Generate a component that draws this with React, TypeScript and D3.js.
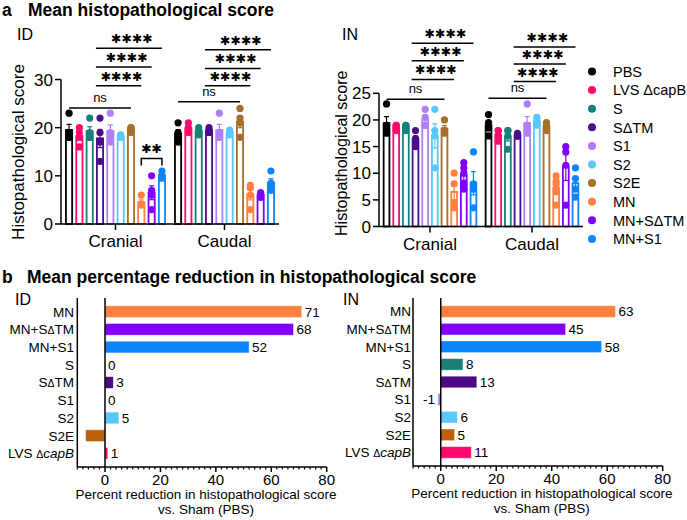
import * as d3 from "d3";

const FONT = "'Liberation Sans', Arial, sans-serif";

const groups = ["PBS", "LVS ΔcapB", "S", "SΔTM", "S1", "S2", "S2E", "MN", "MN+SΔTM", "MN+S1"];
const colors = ["#000000", "#ff0a6c", "#17807a", "#4a0c8c", "#b07ff5", "#5ac8fa", "#a66f2b", "#ff8040", "#8000ff", "#0a84ff"];
const regions = ["Cranial", "Caudal"];

// individual scores per group (ID route)
const idCranial = [
  [23, 19, 18, 18], [20, 19, 18, 16], [22, 19, 18, 18], [22, 19, 17, 13], [23, 19, 18, 17],
  [18.5, 18, 18, 18], [20, 20, 19.5, 19], [6, 4, 4, 4], [10, 7, 6, 3], [11, 10, 10, 9.5],
];
const idCaudal = [
  [21, 19, 18, 17], [21, 20, 19.5, 19], [20, 19.5, 19, 18.5], [20, 19.5, 19, 19], [23, 19, 18, 18],
  [19.5, 19, 19, 18.5], [24, 22, 21, 18], [8, 7.5, 6, 3], [6.5, 6, 6, 5.5], [11, 8.5, 7.5, 7],
];
// IN route
const inCranial = [
  [23, 19, 18, 17.5], [19, 19, 18.5, 18], [19, 19, 18.5, 18], [18, 16.5, 16, 15], [22, 20.5, 19, 19],
  [22, 18, 17, 11], [20, 18, 18, 17.5], [10, 8, 4.5, 3.5], [12, 11, 10, 8, 7], [14, 8, 7, 3.5],
];
const inCaudal = [
  [21, 19.5, 18.5, 17], [18, 18, 17, 16], [18, 18, 17, 14.5], [17.5, 17, 17, 17], [23, 19, 18, 17.5],
  [20.5, 20, 19.5, 19], [19.5, 19, 18.5, 18], [9.5, 8.5, 8, 6.5, 4], [15, 14, 11.5, 4], [11, 9, 7, 5.5],
];

// significance brackets: region, from/to bar index, level (score units), label
const idBrackets = [
  { region: 0, from: 0, to: 6, level: 24.1, text: "ns" },
  { region: 0, from: 2.6, to: 7, level: 28.7, text: "****" },
  { region: 0, from: 2.6, to: 8, level: 32.6, text: "****" },
  { region: 0, from: 2.6, to: 9, level: 36.5, text: "****" },
  { region: 1, from: 0, to: 6, level: 25.4, text: "ns" },
  { region: 1, from: 2.6, to: 7, level: 28.7, text: "****" },
  { region: 1, from: 2.6, to: 8, level: 32.3, text: "****" },
  { region: 1, from: 2.6, to: 9, level: 36.2, text: "****" },
];
const idPairBrackets = [{ region: 0, from: 7, to: 9, level: 13.6, text: "**" }];
const inBrackets = [
  { region: 0, from: 0, to: 6, level: 23.9, text: "ns" },
  { region: 0, from: 2.6, to: 7, level: 27.6, text: "****" },
  { region: 0, from: 2.6, to: 8, level: 31.1, text: "****" },
  { region: 0, from: 2.6, to: 9, level: 34.4, text: "****" },
  { region: 1, from: 0, to: 6, level: 24.05, text: "ns" },
  { region: 1, from: 2.6, to: 7, level: 27.2, text: "****" },
  { region: 1, from: 2.6, to: 8, level: 30.5, text: "****" },
  { region: 1, from: 2.6, to: 9, level: 33.7, text: "****" },
];

// panel b
const reductionCats = ["MN", "MN+SΔTM", "MN+S1", "S", "SΔTM", "S1", "S2", "S2E", "LVS ΔcapB"];
const reductionColors = ["#ff7f3f", "#7f00ff", "#0a84ff", "#1a7f78", "#4b0a84", "#a77bf0", "#5ac8fa", "#c0600c", "#ff0a6c"];
const idReduction = [71, 68, 52, 0, 3, 0, 5, -7, 1];
const idReductionLabels = ["71", "68", "52", "0", "3", "0", "5", "", "1"];
const inReduction = [63, 45, 58, 8, 13, -1, 6, 5, 11];
const inReductionLabels = ["63", "45", "58", "8", "13", "-1", "6", "5", "11"];
const reductionTicks = [0, 20, 40, 60, 80];

function Name({ name, deltaSize, italic }: { name: string; deltaSize?: number; italic?: boolean }) {
  const parts = name.split("Δ");
  if (parts.length === 1) return <>{name}</>;
  return (
    <>
      <tspan>{parts[0]}</tspan>
      <tspan fontSize={deltaSize}>Δ</tspan>
      <tspan fontStyle={italic && parts[1] === "capB" ? "italic" : undefined}>{parts[1]}</tspan>
    </>
  );
}

function stats(v: number[]) {
  const m = d3.mean(v) as number;
  const sd = d3.deviation(v) as number;
  return { m, sem: sd / Math.sqrt(v.length) };
}

function BarPanel(props: any) {
  const { x0, x1, yZero, yTop, yMax, ticks, data, brackets, pairs, tag, tagX, titleX, fs, tickFs } = props;
  const y = d3.scaleLinear().domain([0, yMax]).range([yZero, yTop]);
  const xr = d3.scaleBand().domain(regions).range([x0, x1]);
  const xb = d3.scaleBand().domain(groups).range([0, xr.bandwidth()]).paddingInner(0.4).paddingOuter(0.48);
  const bw = xb.bandwidth();
  const cx = (r: number, i: number) => {
    const k = Math.floor(i);
    const base = (xr(regions[r]) as number) + (xb(groups[k]) as number) + bw / 2;
    return base + (i - k) * xb.step();
  };
  return (
    <g fontFamily={FONT}>
      <text x={tagX} y={40} fontSize={16}>{tag}</text>
      <text transform={`translate(${titleX},${(yZero + 70) / 2 + 5}) rotate(-90)`} textAnchor="middle" fontSize={fs}>
        Histopathological score
      </text>
      {/* y axis */}
      <line x1={x0} x2={x0} y1={y(yMax)} y2={yZero} stroke="#000" strokeWidth={1.5} />
      {ticks.map((t: number) => (
        <g key={t}>
          <line x1={x0 - 6} x2={x0} y1={y(t)} y2={y(t)} stroke="#000" strokeWidth={1.5} />
          <text x={x0 - 8} y={y(t)} dy="0.36em" textAnchor="end" fontSize={tickFs}>{t}</text>
        </g>
      ))}
      {/* bars */}
      {data.map((reg: number[][], r: number) =>
        reg.map((pts: number[], i: number) => {
          const { m, sem } = stats(pts);
          const c = cx(r, i);
          return (
            <g key={`${r}-${i}`} stroke={colors[i]}>
              <rect x={c - bw / 2} y={y(m)} width={bw} height={yZero - y(m)} fill="#fff" strokeWidth={1.8} />
              <line x1={c} x2={c} y1={y(m - sem)} y2={y(m + sem)} strokeWidth={1.2} />
              <line x1={c - 2.5} x2={c + 2.5} y1={y(m + sem)} y2={y(m + sem)} strokeWidth={1.2} />
              <line x1={c - 2.5} x2={c + 2.5} y1={y(m - sem)} y2={y(m - sem)} strokeWidth={1.2} />
              <line x1={c - bw / 2} x2={c + bw / 2} y1={y(m)} y2={y(m)} strokeWidth={1.8} />
              {pts.map((p, j) => (
                <circle key={j} cx={c} cy={y(p)} r={3.6} fill={colors[i]} stroke="none" />
              ))}
            </g>
          );
        })
      )}
      {/* x axis */}
      <line x1={x0} x2={x1} y1={yZero} y2={yZero} stroke="#000" strokeWidth={1.5} />
      {regions.map((r) => {
        const c = (xr(r) as number) + xr.bandwidth() / 2;
        return (
          <g key={r}>
            <line x1={c} x2={c} y1={yZero} y2={yZero + 6} stroke="#000" strokeWidth={1.5} />
            <text x={c} y={yZero + 23} textAnchor="middle" fontSize={tickFs}>{r}</text>
          </g>
        );
      })}
      {/* significance */}
      {brackets.map((b: any, k: number) => {
        const a = cx(b.region, b.from);
        const e = cx(b.region, b.to);
        const yy = y(b.level);
        return (
          <g key={k}>
            <line x1={a} x2={e} y1={yy} y2={yy} stroke="#000" strokeWidth={1.5} />
            {b.text === "ns" ? (
              <text x={(a + e) / 2} y={yy - 6} textAnchor="middle" fontSize={13}>ns</text>
            ) : (
              <text x={(a + e) / 2 + 3} y={yy - 5} textAnchor="middle" fontSize={12.5}
                fontFamily="'DejaVu Sans', sans-serif" fontWeight="bold">
                {"✱✱✱✱".slice(0, b.text.length)}
              </text>
            )}
          </g>
        );
      })}
      {pairs.map((b: any, k: number) => {
        const a = cx(b.region, b.from);
        const e = cx(b.region, b.to);
        const yy = y(b.level);
        return (
          <g key={k}>
            <path d={`M${a},${yy + 7}V${yy}H${e}V${yy + 7}`} fill="none" stroke="#000" strokeWidth={1.5} />
            <text x={(a + e) / 2} y={yy - 5} textAnchor="middle" fontSize={12.5}
              fontFamily="'DejaVu Sans', sans-serif" fontWeight="bold">✱✱</text>
          </g>
        );
      })}
    </g>
  );
}

function ReductionPanel(props: any) {
  const { x0, x1, yTop, yBottom, values, labels, tag, tagX, labelRight } = props;
  const x = d3.scaleLinear().domain([-10, 80]).range([x0, x1]);
  const y = d3.scaleBand().domain(reductionCats).range([yTop, yBottom]).paddingInner(0.34).paddingOuter(0.44);
  const minor = d3.range(-10, 81, 2).filter((v) => v % 20 !== 0);
  return (
    <g fontFamily={FONT}>
      <text x={tagX} y={305} fontSize={16}>{tag}</text>
      {reductionCats.map((c, i) => {
        const v = values[i];
        const yy = y(c) as number;
        const h = y.bandwidth();
        return (
          <g key={c}>
            <text x={labelRight} y={yy + h / 2} dy="0.36em" textAnchor="end" fontSize={13.5}>
              <Name name={c} deltaSize={10.5} italic />
            </text>
            <rect x={Math.min(x(0), x(v))} y={yy} width={Math.abs(x(v) - x(0))} height={h}
              fill={reductionColors[i]} stroke="#fff" strokeOpacity={0.5} strokeWidth={0.8} />
            {labels[i] !== "" && (
              <text x={v < 0 ? x(v) - 3 : x(v) + 3} y={yy + h / 2} dy="0.36em"
                textAnchor={v < 0 ? "end" : "start"} fontSize={13.5}>{labels[i]}</text>
            )}
          </g>
        );
      })}
      <line x1={x0} x2={x0} y1={yTop} y2={yBottom} stroke="#000" strokeWidth={1.5} />
      <line x1={x(0)} x2={x(0)} y1={yTop} y2={yBottom} stroke="#000" strokeWidth={1.5} />
      <line x1={x0} x2={x1} y1={yBottom} y2={yBottom} stroke="#000" strokeWidth={1.5} />
      {minor.map((t) => (
        <line key={t} x1={x(t)} x2={x(t)} y1={yBottom} y2={yBottom + 2.5} stroke="#000" strokeWidth={1.2} />
      ))}
      {reductionTicks.map((t) => (
        <g key={t}>
          <line x1={x(t)} x2={x(t)} y1={yBottom} y2={yBottom + 5} stroke="#000" strokeWidth={1.5} />
          <text x={x(t)} y={yBottom + 18} textAnchor="middle" fontSize={15}>{t}</text>
        </g>
      ))}
      <text x={(x0 + x1) / 2 + 4} y={yBottom + 32} textAnchor="middle" fontSize={13.5}>
        Percent reduction in histopathological score
      </text>
      <text x={(x0 + x1) / 2 + 4} y={yBottom + 47} textAnchor="middle" fontSize={13.5}>vs. Sham (PBS)</text>
    </g>
  );
}

export default function App() {
  return (
    <svg width={687} height={520} style={{ position: "absolute", left: 0, top: 0, background: "#fff" }}>
      <g fontFamily={FONT} fontWeight="bold" fontSize={17.5}>
        <text x={2} y={16}>a</text>
        <text x={28} y={16}>Mean histopathological score</text>
        <text x={2} y={283}>b</text>
        <text x={27} y={283}>Mean percentage reduction in histopathological score</text>
      </g>
      <BarPanel x0={61} x1={279} yZero={224} yTop={79.5} yMax={30} ticks={[0, 10, 20, 30]}
        data={[idCranial, idCaudal]} brackets={idBrackets} pairs={idPairBrackets}
        tag="ID" tagX={17} titleX={24} fs={17} tickFs={17} />
      <BarPanel x0={379} x1={583} yZero={226.5} yTop={93.3} yMax={25} ticks={[0, 5, 10, 15, 20, 25]}
        data={[inCranial, inCaudal]} brackets={inBrackets} pairs={[]}
        tag="IN" tagX={342} titleX={347} fs={16} tickFs={17} />
      {/* legend */}
      <g fontFamily={FONT} fontSize={14.5}>
        {groups.map((g, i) => (
          <g key={g}>
            <circle cx={592} cy={71.5 + i * 18.6} r={4} fill={colors[i]} />
            <text x={613} y={71.5 + i * 18.6} dy="0.36em"><Name name={g} /></text>
          </g>
        ))}
      </g>
      <ReductionPanel x0={77.3} x1={326.7} yTop={298} yBottom={467} values={idReduction}
        labels={idReductionLabels} tag="ID" tagX={15} labelRight={74} />
      <ReductionPanel x0={413} x1={662.7} yTop={298} yBottom={466} values={inReduction}
        labels={inReductionLabels} tag="IN" tagX={343} labelRight={411} />
    </svg>
  );
}
